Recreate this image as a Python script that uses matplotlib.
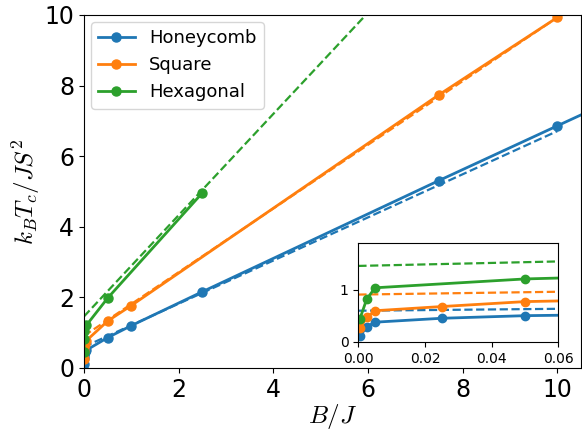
import matplotlib
matplotlib.use('Agg')
import matplotlib.pyplot as plt
import numpy as np

plt.rcParams['mathtext.fontset'] = 'cm'

# values
labels = ['Honeycomb', 'Square', 'Hexagonal']
colors = ['#1f77b4', '#ff7f0e', '#2ca02c']

B_honey = [0.0005, 0.0025, 0.005, 0.025, 0.05, 0.5, 1, 2.5, 7.5, 10, 15]
T_honey = [0.11, 0.29, 0.38, 0.455, 0.505, 0.86, 1.2, 2.16, 5.31, 6.86, 9.95]
B_square = [0.0005, 0.0025, 0.005, 0.025, 0.05, 0.5, 1, 7.5, 10, 15]
T_square = [0.26, 0.47, 0.60, 0.68, 0.775, 1.33, 1.77, 7.74, 9.93, 14.3]
B_hex = [0.0005, 0.0025, 0.005, 0.05, 0.5, 2.5]
T_hex = [0.45, 0.82, 1.04, 1.21, 1.98, 4.96]

# dashed (asymptotic) lines
Bd_honey = [0, 10]
Td_honey = [0.60, 6.71]
Bd_square = [0, 10]
Td_square = [0.91, 9.93]
Bd_hex = [0, 7]
Td_hex = [1.46, 11.5]

solid = [(B_honey, T_honey), (B_square, T_square), (B_hex, T_hex)]
dashed = [(Bd_honey, Td_honey), (Bd_square, Td_square), (Bd_hex, Td_hex)]

fig = plt.figure(figsize=(5.82, 4.30), dpi=100)
ax = fig.add_axes([0.1443, 0.1442, 0.854, 0.821])

for (x, y), (xd, yd), c, lab in zip(solid, dashed, colors, labels):
    ax.plot(x, y, 'o-', color=c, lw=2, ms=6.5, label=lab)
    ax.plot(xd, yd, '--', color=c, lw=1.6)

ax.set_xlim(0, 10.5)
ax.set_ylim(0, 10)
ax.set_xticks([0, 2, 4, 6, 8, 10])
ax.set_yticks([0, 2, 4, 6, 8, 10])
ax.tick_params(labelsize=17)
ax.set_xlabel(r'$B/J$', fontsize=18, labelpad=0)
ax.set_ylabel(r'$k_BT_c/JS^2$', fontsize=18, labelpad=2)
ax.legend(loc='upper left', fontsize=13, borderaxespad=0.4)

# inset
axins = fig.add_axes([0.6157, 0.2047, 0.3436, 0.2302])
for (x, y), (xd, yd), c in zip(solid, dashed, colors):
    axins.plot(x, y, 'o-', color=c, lw=2, ms=6)
    axins.plot(xd, yd, '--', color=c, lw=1.6)
axins.set_xlim(0, 0.06)
axins.set_ylim(0, 1.9)
axins.set_xticks([0, 0.02, 0.04, 0.06])
axins.set_yticks([0, 1])
axins.tick_params(labelsize=10)

fig.savefig('out.png', dpi=100)
